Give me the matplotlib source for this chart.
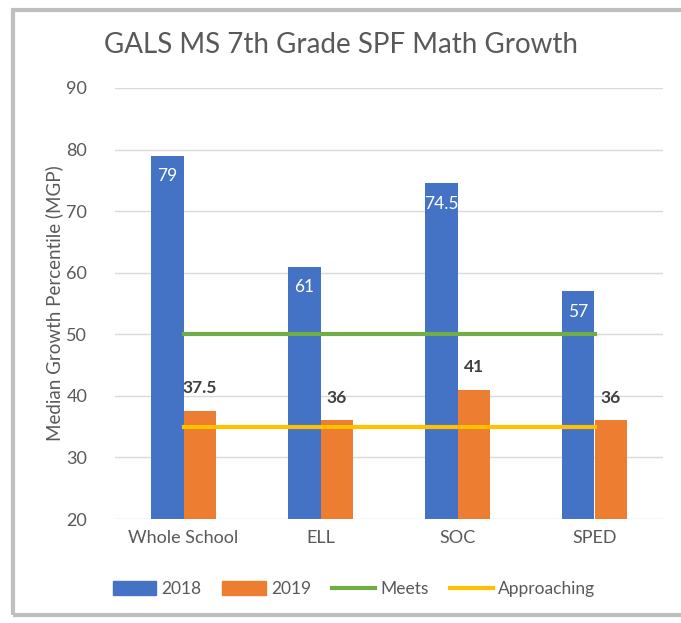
import matplotlib.pyplot as plt
import matplotlib.patches as mpatches
from matplotlib.lines import Line2D

plt.rcParams['font.family'] = ['Lato', 'DejaVu Sans']

categories = ["Whole School", "ELL", "SOC", "SPED"]
vals_2018 = [79, 61, 74.5, 57]
vals_2019 = [37.5, 36, 41, 36]
labels_2018 = ["79", "61", "74.5", "57"]
labels_2019 = ["37.5", "36", "41", "36"]
meets = [50, 50, 50, 50]
approaching = [35, 35, 35, 35]

BLUE = '#4472C4'
ORANGE = '#ED7D31'
GREEN = '#70AD47'
YELLOW = '#FFC000'
GREY = '#595959'

fig = plt.figure(figsize=(6.81, 6.23), dpi=100)
fig.patch.set_facecolor('white')

# outer chart frame
frame = mpatches.Rectangle((13 / 681, 1 - 615 / 623), 1.05, (615 - 10) / 623,
                           transform=fig.transFigure, fill=False,
                           edgecolor='#BFBFBF', lw=3, zorder=0)
fig.patches.append(frame)

ax = fig.add_axes([115 / 681, 1 - 519 / 623, 548 / 681, 431 / 623])

x = list(range(len(categories)))
w = 0.24
xb = [i - w / 2 for i in x]
xo = [i + w / 2 for i in x]

ax.bar(xb, vals_2018, width=w, color=BLUE, label='2018', zorder=2)
ax.bar(xo, vals_2019, width=w, color=ORANGE, label='2019', zorder=2)
ax.plot(x, meets, color=GREEN, lw=3, label='Meets', zorder=3)
ax.plot(x, approaching, color=YELLOW, lw=3, label='Approaching', zorder=3)

for xi, v, t in zip(xb, vals_2018, labels_2018):
    ax.text(xi, v - 2.0, t, ha='center', va='top', color='white', fontsize=12.5, zorder=4)
for xi, v, t in zip(xo, vals_2019, labels_2019):
    ax.text(xi, v + 2.4, t, ha='center', va='bottom', color='#404040',
            fontsize=12.5, fontweight='bold', zorder=4)

ax.set_xlim(-0.5, 3.5)
ax.set_ylim(20, 90)
ax.set_yticks(range(20, 91, 10))
ax.set_xticks(x)
ax.set_xticklabels(categories)
ax.grid(axis='y', color='#D9D9D9', lw=1, zorder=0)
ax.set_axisbelow(True)
for s in ax.spines.values():
    s.set_visible(False)
ax.tick_params(axis='both', length=0, colors=GREY, labelsize=13)
ax.tick_params(axis='y', pad=20)
ax.tick_params(axis='x', pad=8)

ax.set_ylabel('Median Growth Percentile (MGP)', color=GREY, fontsize=13.5, labelpad=2)

fig.text(0.5, 1 - 45 / 623, 'GALS MS 7th Grade SPF Math Growth', ha='center', va='center',
         color=GREY, fontsize=20)

handles = [mpatches.Patch(color=BLUE), mpatches.Patch(color=ORANGE),
           Line2D([], [], color=GREEN, lw=3), Line2D([], [], color=YELLOW, lw=3)]
fig.legend(handles, ['2018', '2019', 'Meets', 'Approaching'], loc='center',
           bbox_to_anchor=(354 / 681, 1 - 589 / 623), ncol=4, frameon=False,
           fontsize=12.5, labelcolor=GREY, handlelength=2.5, handleheight=0.8,
           handletextpad=0.3, columnspacing=1.2)

fig.savefig('out.png', dpi=100)
